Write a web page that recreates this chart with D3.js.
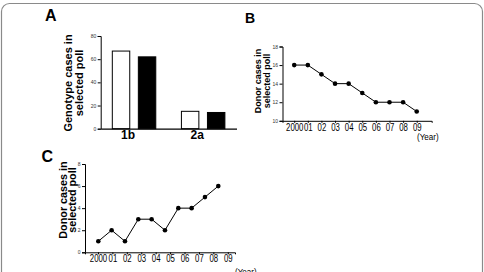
<!DOCTYPE html>
<html>
<head>
<meta charset="utf-8">
<script src="https://cdn.jsdelivr.net/npm/d3@7"></script>
<style>
  body { margin: 0; background: #fff; }
  text { font-family: "Liberation Sans", Arial, sans-serif; }
</style>
</head>
<body>
<script>
// panel A : genotype cases
const genotypes = ["1b", "2a"];
const groups = ["white", "black"];
const genoWhite = [67, 15];
const genoBlack = [62, 14];
const genoTicks = [0, 20, 40, 60, 80];

// panels B and C : donor cases per year
const years = [2000, 2001, 2002, 2003, 2004, 2005, 2006, 2007, 2008, 2009];
const yearLabels = ["2000", "01", "02", "03", "04", "05", "06", "07", "08", "09"];
const donorsB = [16, 16, 15, 14, 14, 13, 12, 12, 12, 11];
const donorsC = [1, 2, 1, 3, 3, 2, 4, 4, 5, 6];
const ticksB = [10, 12, 14, 16, 18];
const ticksC = [0, 2, 4, 6, 8];

const svg = d3.select("body").append("svg")
    .attr("width", 484)
    .attr("height", 272);

// frame round the figure
svg.append("rect")
    .attr("x", 1.5).attr("y", 3.5)
    .attr("width", 481).attr("height", 290)
    .attr("rx", 8)
    .attr("fill", "none")
    .attr("stroke", "#8a8a8a")
    .attr("stroke-width", 1.2);

function panelLetter(txt, x, y, size) {
    svg.append("text")
        .attr("x", x).attr("y", y)
        .attr("font-size", size)
        .attr("font-weight", "bold")
        .text(txt);
}

function yTitle(lines, x, y, size, lh) {
    const t = svg.append("text")
        .attr("transform", `translate(${x},${y}) rotate(-90)`)
        .attr("text-anchor", "middle")
        .attr("font-size", size)
        .attr("font-weight", "bold");
    lines.forEach((l, i) => {
        t.append("tspan").attr("x", 0).attr("dy", i == 0 ? 0 : lh).text(l);
    });
}

function styleYAxis(g) {
    g.select(".domain").attr("stroke", "#000").attr("stroke-width", 1);
    g.selectAll(".tick line").attr("stroke", "#000");
    g.selectAll(".tick text")
        .attr("font-size", 5)
        .attr("fill", "#333")
        .attr("font-family", "Liberation Sans, Arial, sans-serif");
}

// ---------- A ----------
panelLetter("A", 45, 21, 16);

const yA = d3.scaleLinear().domain([0, 80]).range([128.7, 36]);
const xA = d3.scaleBand().domain(genotypes)
    .range([100.7, 236.5])
    .paddingInner(0.371)
    .paddingOuter(0.168);
const xA2 = d3.scaleBand().domain(groups)
    .range([0, xA.bandwidth()])
    .paddingInner(0.33);

const barData = [];
genotypes.forEach((g, i) => {
    barData.push({ cat: g, grp: "white", v: genoWhite[i] });
    barData.push({ cat: g, grp: "black", v: genoBlack[i] });
});

svg.selectAll(".bar")
    .data(barData)
    .join("rect")
    .attr("class", "bar")
    .attr("x", d => xA(d.cat) + xA2(d.grp))
    .attr("y", d => yA(d.v))
    .attr("width", xA2.bandwidth())
    .attr("height", d => yA(0) - yA(d.v))
    .attr("fill", d => d.grp == "white" ? "#fff" : "#000")
    .attr("stroke", "#000")
    .attr("stroke-width", 1);

svg.append("g")
    .attr("transform", "translate(100.7,0)")
    .call(d3.axisLeft(yA).tickValues(genoTicks).tickSize(3).tickPadding(1.5))
    .call(styleYAxis);

const xAxisA = svg.append("g")
    .attr("transform", "translate(0,128.7)")
    .call(d3.axisBottom(xA).tickSize(0).tickPadding(2).tickSizeOuter(0));
xAxisA.select(".domain").attr("stroke", "#000").attr("stroke-width", 1.2);
xAxisA.selectAll(".tick text")
    .attr("font-size", 12)
    .attr("font-weight", "bold")
    .attr("fill", "#000")
    .attr("dx", -6)
    .attr("font-family", "Liberation Sans, Arial, sans-serif");

yTitle(["Genotype cases in", "selected poll"], 72, 83, 11, 10.5);

// ---------- B ----------
panelLetter("B", 245, 22.7, 14);

const yB = d3.scaleLinear().domain([10, 18]).range([120.8, 46.5]);
const xB = d3.scaleLinear().domain([1999.14, 2010.1]).range([282.5, 431.7]);

function lineChart(x, y, xl, vals, ticks, ax, ay, yearX, yearY) {
    svg.append("g")
        .attr("transform", `translate(${ax},0)`)
        .call(d3.axisLeft(y).tickValues(ticks).tickSize(3).tickPadding(1.5))
        .call(styleYAxis);

    const gx = svg.append("g")
        .attr("transform", `translate(0,${ay})`)
        .call(d3.axisBottom(xl).tickValues(years)
            .tickFormat((d, i) => yearLabels[i])
            .tickSize(2).tickPadding(1).tickSizeOuter(2));
    gx.select(".domain").attr("stroke", "#000").attr("stroke-width", 1);
    gx.selectAll(".tick line").attr("stroke", "#000");
    // the year labels are set in a condensed face
    gx.selectAll(".tick text")
        .attr("font-size", 10)
        .attr("fill", "#000")
        .attr("transform", "scale(0.78,1)");

    const pts = years.map((yr, i) => [x(yr), y(vals[i])]);
    svg.append("path")
        .attr("d", d3.line()(pts))
        .attr("fill", "none")
        .attr("stroke", "#000")
        .attr("stroke-width", 1);
    svg.append("g").selectAll("circle")
        .data(pts)
        .join("circle")
        .attr("cx", d => d[0])
        .attr("cy", d => d[1])
        .attr("r", 2.3)
        .attr("fill", "#000");

    svg.append("text")
        .attr("transform", `translate(${yearX},${yearY}) scale(0.85,1)`)
        .attr("font-size", 9.5)
        .text("(Year)");
}

lineChart(xB, yB, xB, donorsB, ticksB, 282.5, 120.8, 417, 140);
yTitle(["Donor cases in", "selected poll"], 260.5, 81, 9, 9.5);

// ---------- C ----------
panelLetter("C", 41.5, 161.7, 16);

const yC = d3.scaleLinear().domain([0, 8]).range([252.3, 164]);
const xC = d3.scaleLinear().domain([2000, 2009]).range([98.3, 218.3]);
const xCl = d3.scaleLinear().domain([1999.1, 2009.5]).range([85, 235]);

lineChart(xC, yC, xCl, donorsC, ticksC, 85, 252.3, 235, 275);
yTitle(["Donor cases in", "selected poll"], 67.3, 200, 10.8, 8.8);
</script>
</body>
</html>
